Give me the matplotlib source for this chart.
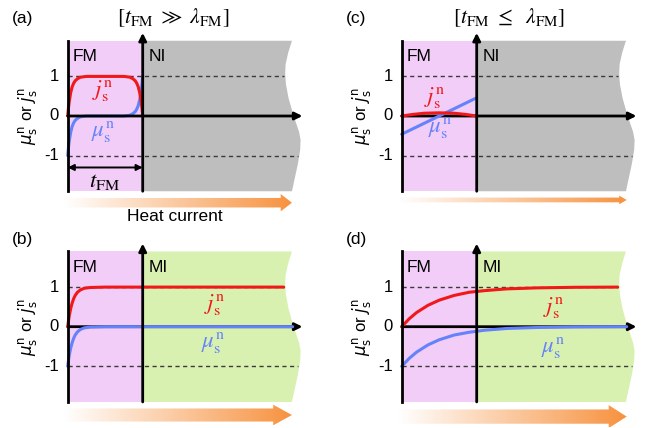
import numpy as np
import matplotlib.pyplot as plt
from matplotlib.patches import Polygon, Rectangle
from matplotlib.colors import LinearSegmentedColormap

plt.rcParams['font.family'] = ['Liberation Sans', 'DejaVu Sans']

# ==========================================
# DATA (x in units of FM thickness, values normalised)
# ==========================================
# (a) t_FM >> lambda_FM, FM / NI
A_X = [0, 0.01, 0.02, 0.04, 0.06, 0.08, 0.10, 0.13, 0.17, 0.25, 0.5,
       0.75, 0.83, 0.87, 0.90, 0.92, 0.94, 0.96, 0.98, 0.99, 1.0]
A_J = [0, 0.20, 0.36, 0.59, 0.74, 0.83, 0.89, 0.94, 0.98, 1.0, 1.0,
       1.0, 0.98, 0.94, 0.89, 0.83, 0.74, 0.59, 0.36, 0.20, 0]
A_MU = [-1, -0.80, -0.64, -0.41, -0.26, -0.17, -0.11, -0.06, -0.02, 0, 0,
        0, 0.02, 0.06, 0.11, 0.17, 0.26, 0.41, 0.64, 0.80, 1.0]

# (b) t_FM >> lambda_FM, FM / MI
B_X = [0, 0.01, 0.02, 0.04, 0.06, 0.08, 0.10, 0.13, 0.17, 0.22, 0.30, 0.5, 1.0, 2.0, 2.88]
B_J = [0, 0.14, 0.27, 0.46, 0.60, 0.71, 0.79, 0.87, 0.93, 0.97, 0.99, 1.0, 1.0, 1.0, 1.0]
B_MU_X = [0, 0.01, 0.02, 0.04, 0.06, 0.08, 0.10, 0.13, 0.17, 0.22, 0.30, 0.5, 1.0, 2.0, 3.0]
B_MU = [-1, -0.86, -0.73, -0.54, -0.40, -0.29, -0.21, -0.13, -0.07, -0.03, -0.01, 0, 0, 0, 0]

# (c) t_FM <= lambda_FM, FM / NI
C_X = [0, 0.15, 0.3, 0.5, 0.7, 0.85, 1.0]
C_J = [0, 0.04, 0.07, 0.08, 0.07, 0.04, 0]
C_MU_X = [0, 1.0]
C_MU = [-0.46, 0.46]

# (d) t_FM <= lambda_FM, FM / MI
D_X = [0, 0.1, 0.2, 0.35, 0.5, 0.7, 0.9, 1.1, 1.4, 1.8, 2.3, 2.88]
D_J = [0, 0.20, 0.36, 0.54, 0.67, 0.79, 0.87, 0.91, 0.955, 0.98, 0.995, 1.0]
D_MU_X = [0, 0.1, 0.2, 0.35, 0.5, 0.7, 0.9, 1.1, 1.4, 1.8, 2.3, 3.0]
D_MU = [-1, -0.80, -0.64, -0.46, -0.33, -0.21, -0.14, -0.09, -0.045, -0.02, -0.006, 0]

TICKS = [1, 0, -1]

# wavy right edge of the shaded stack (x, y), top to bottom
EDGE = [(2.99, 1.90), (2.94, 1.60), (2.905, 1.30), (2.90, 1.05), (2.91, 0.80),
        (2.945, 0.45), (2.99, 0.15), (3.04, -0.15), (3.085, -0.40), (3.105, -0.60),
        (3.10, -0.85), (3.07, -1.20), (3.03, -1.55), (2.99, -1.90)]

PINK = '#F2CDF8'
GRAY = '#BEBEBE'
GREEN = '#D9F1B0'
RED = '#F01818'
BLUE = '#6482FA'
ORANGE = '#F7923F'

# ==========================================
# LAYOUT
# ==========================================
W, H = 651, 428
SX, SY = 75.0, 39.6


def make_ax(fig, ox, oy):
    left, right, top, bot = 70, 262, 118, 100
    ax = fig.add_axes([(ox - left) / W, 1 - (oy + bot) / H, (left + right) / W, (top + bot) / H])
    ax.set_xlim(-left / SX, right / SX)
    ax.set_ylim(-bot / SY, top / SY)
    ax.axis('off')
    return ax


def heat_arrow(ax, y, hb, hh, hl, x0=-0.05, x1=2.99):
    pts = [(x0, y - hb), (x1 - hl, y - hb), (x1 - hl, y - hh), (x1, y),
           (x1 - hl, y + hh), (x1 - hl, y + hb), (x0, y + hb)]
    poly = Polygon(pts, closed=True, facecolor='none', edgecolor='none')
    ax.add_patch(poly)
    cmap = LinearSegmentedColormap.from_list('heat', ['white', ORANGE])
    grad = np.linspace(0, 1, 256)[None, :]
    im = ax.imshow(grad, extent=(x0, x1, y - hh, y + hh), aspect='auto',
                   cmap=cmap, origin='lower', interpolation='bilinear', zorder=1)
    im.set_clip_path(poly)


def draw_panel(ax, right_color, right_name, curves, labels, letter, letter_y, curve_z):
    # shaded layers
    ax.add_patch(Rectangle((0, -1.9), 1, 3.8, facecolor=PINK, edgecolor='none', zorder=0))
    ax.add_patch(Polygon([(1, 1.9)] + EDGE + [(1, -1.9)], closed=True,
                         facecolor=right_color, edgecolor='none', zorder=0))
    # dashed guides at +-1
    edge_x = [p[0] for p in EDGE][::-1]
    edge_y = [p[1] for p in EDGE][::-1]
    for v in (1, -1):
        xe = np.interp(v, edge_y, edge_x) - 0.02
        ax.plot([0, xe], [v, v], color='#3a3a3a', lw=1.0, ls=(0, (3, 2.5)), zorder=1)
    for v in TICKS:
        ax.text(-0.12, v, str(v), ha='right', va='center', fontsize=12)
    # curves
    for (xs, ys, c) in curves:
        ax.plot(xs, ys, color=c, lw=2.2, zorder=curve_z, solid_capstyle='round')
    # axes lines
    ax.annotate('', xy=(3.13, 0), xytext=(0, 0),
                arrowprops=dict(arrowstyle='-|>', lw=2, color='k', mutation_scale=11,
                                shrinkA=0, shrinkB=0), zorder=3)
    ax.plot([0, 0], [-1.9, 1.9], color='k', lw=2, zorder=5)
    ax.annotate('', xy=(1, 2.1), xytext=(1, -1.9),
                arrowprops=dict(arrowstyle='-|>', lw=2, color='k', mutation_scale=11,
                                shrinkA=0, shrinkB=0), zorder=5)
    ax.text(0.07, 1.5, 'FM', ha='left', va='center', fontsize=12.5)
    ax.text(1.08, 1.5, right_name, ha='left', va='center', fontsize=12.5)
    for (x, y, s, c) in labels:
        ax.text(x, y, s, ha='center', va='center', fontsize=16.5, color=c, math_fontfamily='stix')
    ax.text(-0.75, letter_y, letter, ha='left', va='center', fontsize=12.5)
    ax.text(-0.54, 0.0, r'$\mu_{\mathrm{s}}^{\mathrm{n}}$ or $j_{\mathrm{s}}^{\mathrm{n}}$',
            rotation=90, ha='center', va='center', fontsize=12, math_fontfamily='dejavusans')


J_LAB = r'$j_{\mathrm{s}}^{\mathrm{n}}$'
MU_LAB = r'$\mu_{\mathrm{s}}^{\mathrm{n}}$'

fig = plt.figure(figsize=(W / 100, H / 100), dpi=100)

# (a)
ax_a = make_ax(fig, 67.7, 116)
draw_panel(ax_a, GRAY, 'NI', [(A_X, A_MU, BLUE), (A_X, A_J, RED)],
           [(0.47, 0.62, J_LAB, RED), (0.47, -0.42, MU_LAB, BLUE)], '(a)', 2.47, 2)
ax_a.annotate('', xy=(1, -1.30), xytext=(0, -1.30),
              arrowprops=dict(arrowstyle='<|-|>', lw=1.4, color='k', mutation_scale=9,
                              shrinkA=0, shrinkB=0), zorder=5)
ax_a.text(0.49, -1.62, r'$t_{\mathrm{FM}}$', ha='center', va='center', fontsize=16.5,
          math_fontfamily='stix')
ax_a.text(1.40, 2.47, r'$[t_{\mathrm{FM}}\ \gg\ \lambda_{\mathrm{FM}}]$', ha='center', va='center',
          fontsize=15.5, math_fontfamily='stix')
heat_arrow(ax_a, -2.19, 0.12, 0.22, 0.15)
ax_a.text(1.43, -2.53, 'Heat current', ha='center', va='center', fontsize=12.5)

# (c)
ax_c = make_ax(fig, 401.7, 116)
draw_panel(ax_c, GRAY, 'NI', [(C_MU_X, C_MU, BLUE), (C_X, C_J, RED)],
           [(0.44, 0.45, J_LAB, RED), (0.51, -0.30, MU_LAB, BLUE)], '(c)', 2.47, 4)
ax_c.text(1.43, 2.47, r'$[t_{\mathrm{FM}}\ \leq\ \ \lambda_{\mathrm{FM}}]$', ha='center', va='center',
          fontsize=15.5, math_fontfamily='stix')
heat_arrow(ax_c, -2.12, 0.06, 0.11, 0.10, x1=3.0)

# (b)
ax_b = make_ax(fig, 67.7, 326.7)
draw_panel(ax_b, GREEN, 'MI', [(B_MU_X, B_MU, BLUE), (B_X, B_J, RED)],
           [(1.96, 0.55, J_LAB, RED), (1.94, -0.42, MU_LAB, BLUE)], '(b)', 2.2, 4)
heat_arrow(ax_b, -2.23, 0.165, 0.26, 0.25)

# (d)
ax_d = make_ax(fig, 401.7, 326.7)
draw_panel(ax_d, GREEN, 'MI', [(D_MU_X, D_MU, BLUE), (D_X, D_J, RED)],
           [(2.02, 0.47, J_LAB, RED), (2.02, -0.54, MU_LAB, BLUE)], '(d)', 2.2, 4)
heat_arrow(ax_d, -2.27, 0.18, 0.29, 0.24, x1=3.0)

fig.savefig('out.png', dpi=100)
